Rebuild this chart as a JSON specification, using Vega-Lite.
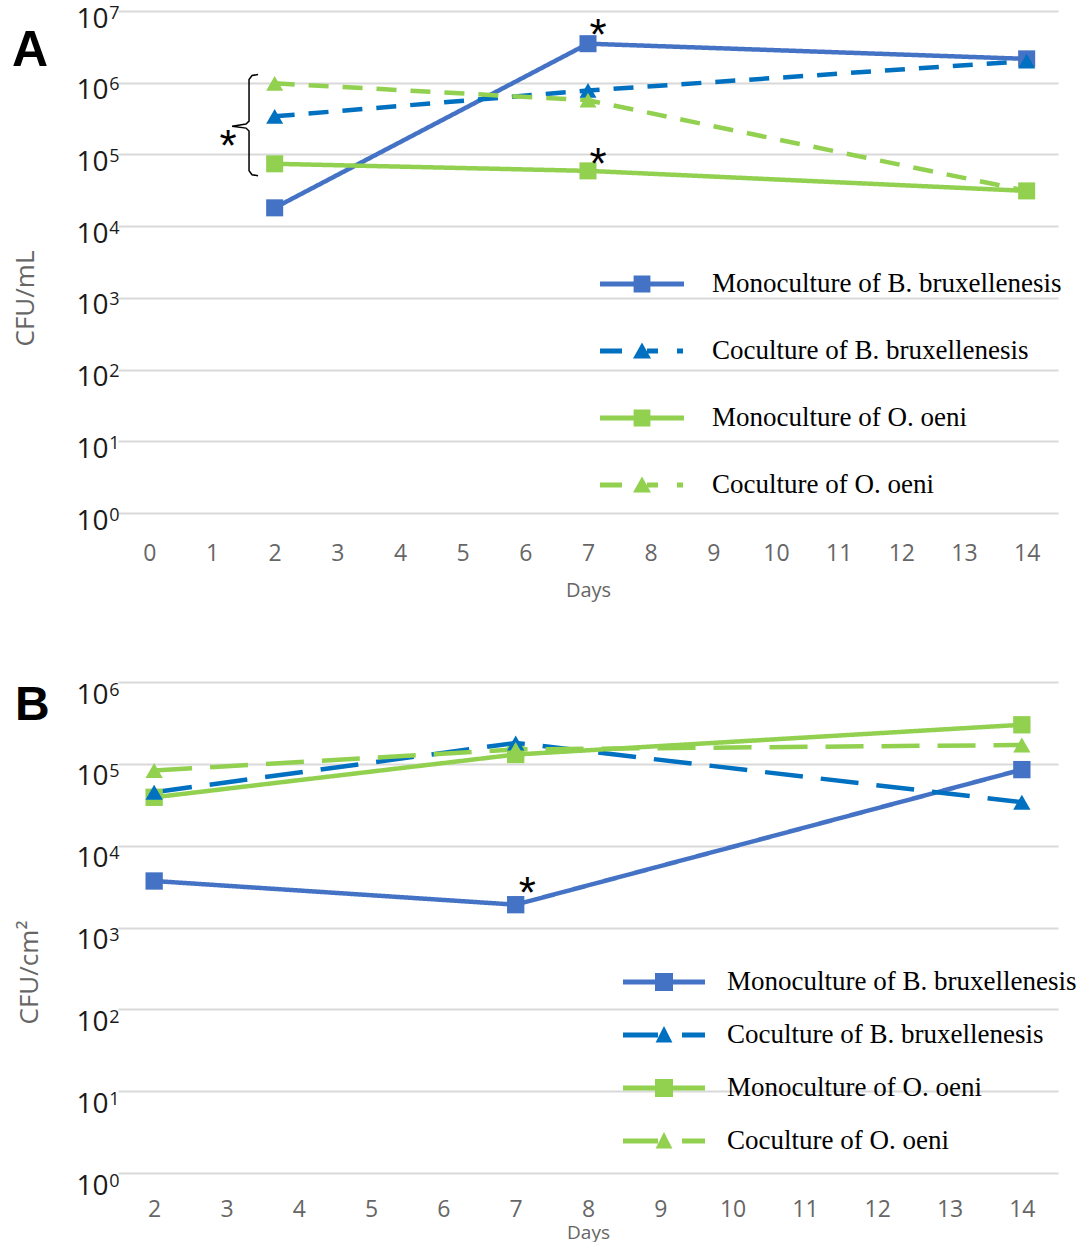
{
  "$schema": "https://vega.github.io/schema/vega-lite/v6.json",
  "background": "white",
  "padding": {"left": 12, "top": 4, "right": 0, "bottom": 0},
  "spacing": 81,
  "config": {"view": {"stroke": null}},
  "datasets": {
    "A": [
      {"day": 2, "cfu": 18000, "series": "Monoculture of B. bruxellenesis"},
      {"day": 7, "cfu": 3500000, "series": "Monoculture of B. bruxellenesis"},
      {"day": 14, "cfu": 2150000, "series": "Monoculture of B. bruxellenesis"},
      {"day": 2, "cfu": 340000, "series": "Coculture of B. bruxellenesis"},
      {"day": 7, "cfu": 780000, "series": "Coculture of B. bruxellenesis"},
      {"day": 14, "cfu": 2000000, "series": "Coculture of B. bruxellenesis"},
      {"day": 2, "cfu": 74000, "series": "Monoculture of O. oeni"},
      {"day": 7, "cfu": 59000, "series": "Monoculture of O. oeni"},
      {"day": 14, "cfu": 31000, "series": "Monoculture of O. oeni"},
      {"day": 2, "cfu": 980000, "series": "Coculture of O. oeni"},
      {"day": 7, "cfu": 570000, "series": "Coculture of O. oeni"},
      {"day": 14, "cfu": 31000, "series": "Coculture of O. oeni"}
    ],
    "B": [
      {"day": 2, "cfu": 3700, "series": "Monoculture of B. bruxellenesis"},
      {"day": 7, "cfu": 1900, "series": "Monoculture of B. bruxellenesis"},
      {"day": 14, "cfu": 85000, "series": "Monoculture of B. bruxellenesis"},
      {"day": 2, "cfu": 45000, "series": "Coculture of B. bruxellenesis"},
      {"day": 7, "cfu": 180000, "series": "Coculture of B. bruxellenesis"},
      {"day": 14, "cfu": 34000, "series": "Coculture of B. bruxellenesis"},
      {"day": 2, "cfu": 39000, "series": "Monoculture of O. oeni"},
      {"day": 7, "cfu": 130000, "series": "Monoculture of O. oeni"},
      {"day": 14, "cfu": 300000, "series": "Monoculture of O. oeni"},
      {"day": 2, "cfu": 83000, "series": "Coculture of O. oeni"},
      {"day": 7, "cfu": 150000, "series": "Coculture of O. oeni"},
      {"day": 14, "cfu": 170000, "series": "Coculture of O. oeni"}
    ],
    "starsA": [
      {"day": 7.16, "cfu": 5600000},
      {"day": 7.16, "cfu": 89000},
      {"day": 1.256, "cfu": 160000}
    ],
    "starsB": [
      {"day": 7.16, "cfu": 3100}
    ],
    "panelA": [{"day": -2.19, "cfu": 1710000, "label": "A"}],
    "panelB": [{"day": 0.076, "cfu": 344000, "label": "B"}],
    "braceA": [
      {"k": 1, "day": 1.735, "cfu": 1300000},
      {"k": 2, "day": 1.639, "cfu": 1260000},
      {"k": 3, "day": 1.591, "cfu": 1110000},
      {"k": 4, "day": 1.591, "cfu": 291000},
      {"k": 5, "day": 1.543, "cfu": 265000},
      {"k": 6, "day": 1.32, "cfu": 248000},
      {"k": 7, "day": 1.543, "cfu": 233000},
      {"k": 8, "day": 1.591, "cfu": 212000},
      {"k": 9, "day": 1.591, "cfu": 59200},
      {"k": 10, "day": 1.639, "cfu": 52100},
      {"k": 11, "day": 1.735, "cfu": 50500}
    ]
  },
  "resolve": {
    "scale": {"color": "independent", "strokeDash": "independent"},
    "legend": {"color": "independent"}
  },
  "vconcat": [
    {
      "width": 940,
      "height": 502,
      "encoding": {
        "x": {"field": "day", "type": "quantitative",
          "scale": {"domain": [-0.5, 14.5], "nice": false, "zero": false},
          "axis": {"values": [0,1,2,3,4,5,6,7,8,9,10,11,12,13,14], "grid": false, "domain": false, "ticks": false, "labelFlush": false,
            "labelFont": "Open Sans", "labelFontSize": 23, "labelColor": "#666666", "labelPadding": 29,
            "title": "Days", "titleFont": "Open Sans", "titleFontSize": 20, "titleFontWeight": "normal", "titleColor": "#666666", "titlePadding": 15}}
      },
      "layer": [
        {
          "data": {"name": "A"},
          "mark": {"type": "line", "strokeWidth": 4.5},
          "encoding": {
            "y": {"field": "cfu", "type": "quantitative",
              "scale": {"type": "log", "domain": [1, 10000000], "nice": false},
              "axis": {"orient": "left", "values": [1,10,100,1000,10000,100000,1000000,10000000], "labelExpr": "'10'",
                "grid": true, "gridColor": "#D9D9D9", "gridWidth": 2, "domain": false, "ticks": false,
                "labelFont": "Open Sans", "labelFontSize": 28, "labelColor": "#1a1a1a", "labelPadding": 10, "labelOffset": 8, "labelOverlap": false, "labelFlush": false,
                "title": "CFU/mL", "titleFont": "Open Sans", "titleFontSize": 26, "titleFontWeight": "normal", "titleColor": "#666666", "titleX": -85, "titleY": 287, "titleBaseline": "alphabetic"}},
            "color": {"field": "series", "type": "nominal",
              "scale": {"domain": ["Monoculture of B. bruxellenesis", "Coculture of B. bruxellenesis", "Monoculture of O. oeni", "Coculture of O. oeni"], "range": ["#4472C4", "#0070C0", "#92D050", "#92D050"]},
              "legend": {"orient": "none", "legendX": 504, "legendY": 253, "title": null, "symbolSize": 1600,
                "labelFont": "Liberation Serif", "labelFontSize": 27, "labelColor": "#000", "labelLimit": 600, "rowPadding": 34, "labelOffset": 50, "padding": 0,
                "encode": {"symbols": {"update": {
                  "shape": {"signal": "indexof(datum.value,'Mono')==0 ? 'M-2.1,-0.12H2.1V0.12H-2.1Z M-0.42,-0.42H0.42V0.42H-0.42Z' : 'M-2.1,-0.12H-1V0.12H-2.1Z M-0.45,0.38L0,-0.42L0.45,0.38Z M0.25,-0.12H0.8V0.12H0.25Z M1.75,-0.12H2.05V0.12H1.75Z'"},
                  "fill": {"signal": "indexof(datum.value,'O. oeni')>=0 ? '#92D050' : (indexof(datum.value,'Mono')==0 ? '#4472C4' : '#0070C0')"},
                  "stroke": {"value": "transparent"}, "strokeWidth": {"value": 0}, "opacity": {"value": 1}, "fillOpacity": {"value": 1}}}}}},
            "strokeDash": {"field": "series", "type": "nominal",
              "scale": {"domain": ["Monoculture of B. bruxellenesis", "Coculture of B. bruxellenesis", "Monoculture of O. oeni", "Coculture of O. oeni"], "range": [[1,0],[20,14],[1,0],[20,14]]},
              "legend": null}
          }
        },
        {
          "data": {"name": "A"},
          "transform": [{"filter": "indexof(datum.series,'Mono')==0"}],
          "mark": {"type": "point", "shape": "square", "filled": true, "size": 290, "opacity": 1},
          "encoding": {
            "y": {"field": "cfu", "type": "quantitative",
              "scale": {"type": "log", "domain": [1, 10000000], "nice": false},
              "axis": {"orient": "left", "values": [1,10,100,1000,10000,100000,1000000,10000000], "labelExpr": "'' + round(log(datum.value)/LN10)",
                "grid": false, "domain": false, "ticks": false,
                "labelFont": "Open Sans", "labelFontSize": 18, "labelColor": "#1a1a1a", "labelPadding": -1, "labelOffset": 2, "labelOverlap": false, "labelFlush": false, "title": null}},
            "color": {"field": "series", "type": "nominal",
              "scale": {"domain": ["Monoculture of B. bruxellenesis", "Coculture of B. bruxellenesis", "Monoculture of O. oeni", "Coculture of O. oeni"], "range": ["#4472C4", "#0070C0", "#92D050", "#92D050"]},
              "legend": null}
          }
        },
        {
          "data": {"name": "A"},
          "transform": [{"filter": "indexof(datum.series,'Coculture')==0"}],
          "mark": {"type": "point", "shape": "triangle-up", "filled": true, "size": 290, "opacity": 1},
          "encoding": {
            "y": {"field": "cfu", "type": "quantitative", "scale": {"type": "log", "domain": [1, 10000000], "nice": false}, "axis": null},
            "color": {"field": "series", "type": "nominal",
              "scale": {"domain": ["Monoculture of B. bruxellenesis", "Coculture of B. bruxellenesis", "Monoculture of O. oeni", "Coculture of O. oeni"], "range": ["#4472C4", "#0070C0", "#92D050", "#92D050"]},
              "legend": null}
          }
        },
        {
          "data": {"name": "starsA"},
          "mark": {"type": "text", "text": "*", "font": "Liberation Sans", "fontSize": 44, "color": "#000", "baseline": "middle", "align": "center", "dy": 8},
          "encoding": {
            "y": {"field": "cfu", "type": "quantitative", "scale": {"type": "log", "domain": [1, 10000000], "nice": false}, "axis": null}
          }
        },
        {
          "data": {"name": "braceA"},
          "mark": {"type": "line", "color": "#000", "strokeWidth": 1.5},
          "encoding": {
            "y": {"field": "cfu", "type": "quantitative", "scale": {"type": "log", "domain": [1, 10000000], "nice": false}, "axis": null},
            "order": {"field": "k", "type": "quantitative"}
          }
        },
        {
          "data": {"name": "panelA"},
          "mark": {"type": "text", "font": "Liberation Sans", "fontSize": 50, "fontWeight": "bold", "color": "#000", "align": "left", "baseline": "alphabetic"},
          "encoding": {
            "y": {"field": "cfu", "type": "quantitative", "scale": {"type": "log", "domain": [1, 10000000], "nice": false}, "axis": null},
            "text": {"field": "label", "type": "nominal"}
          }
        }
      ],
      "resolve": {"axis": {"y": "independent"}}
    },
    {
      "width": 940,
      "height": 491,
      "encoding": {
        "x": {"field": "day", "type": "quantitative",
          "scale": {"domain": [1.5, 14.5], "nice": false, "zero": false},
          "axis": {"values": [2,3,4,5,6,7,8,9,10,11,12,13,14], "grid": false, "domain": false, "ticks": false, "labelFlush": false,
            "labelFont": "Open Sans", "labelFontSize": 23, "labelColor": "#666666", "labelPadding": 25,
            "title": "Days", "titleFont": "Open Sans", "titleFontSize": 19, "titleFontWeight": "normal", "titleColor": "#666666", "titlePadding": 2}}
      },
      "layer": [
        {
          "data": {"name": "B"},
          "mark": {"type": "line", "strokeWidth": 4.5},
          "encoding": {
            "y": {"field": "cfu", "type": "quantitative",
              "scale": {"type": "log", "domain": [1, 1000000], "nice": false},
              "axis": {"orient": "left", "values": [1,10,100,1000,10000,100000,1000000], "labelExpr": "'10'",
                "grid": true, "gridColor": "#D9D9D9", "gridWidth": 2, "domain": false, "ticks": false,
                "labelFont": "Open Sans", "labelFontSize": 28, "labelColor": "#1a1a1a", "labelPadding": 10, "labelOffset": 13, "labelOverlap": false, "labelFlush": false,
                "title": "CFU/cm²", "titleFont": "Open Sans", "titleFontSize": 26, "titleFontWeight": "normal", "titleColor": "#666666", "titleX": -81, "titleY": 290, "titleBaseline": "alphabetic"}},
            "color": {"field": "series", "type": "nominal",
              "scale": {"domain": ["Monoculture of B. bruxellenesis", "Coculture of B. bruxellenesis", "Monoculture of O. oeni", "Coculture of O. oeni"], "range": ["#4472C4", "#0070C0", "#92D050", "#92D050"]},
              "legend": {"orient": "none", "legendX": 526, "legendY": 280, "title": null, "symbolSize": 1600,
                "labelFont": "Liberation Serif", "labelFontSize": 27, "labelColor": "#000", "labelLimit": 600, "rowPadding": 20, "labelOffset": 43, "padding": 0,
                "encode": {"symbols": {"update": {
                  "shape": {"signal": "indexof(datum.value,'Mono')==0 ? 'M-2.05,-0.12H2.05V0.12H-2.05Z M-0.45,-0.45H0.45V0.45H-0.45Z' : 'M-2.05,-0.12H-0.3V0.12H-2.05Z M-0.42,0.38L0,-0.45L0.42,0.38Z M0.9,-0.12H2.05V0.12H0.9Z'"},
                  "fill": {"signal": "indexof(datum.value,'O. oeni')>=0 ? '#92D050' : (indexof(datum.value,'Mono')==0 ? '#4472C4' : '#0070C0')"},
                  "stroke": {"value": "transparent"}, "strokeWidth": {"value": 0}, "opacity": {"value": 1}, "fillOpacity": {"value": 1}}}}}},
            "strokeDash": {"field": "series", "type": "nominal",
              "scale": {"domain": ["Monoculture of B. bruxellenesis", "Coculture of B. bruxellenesis", "Monoculture of O. oeni", "Coculture of O. oeni"], "range": [[1,0],[38,18],[1,0],[38,18]]},
              "legend": null}
          }
        },
        {
          "data": {"name": "B"},
          "transform": [{"filter": "indexof(datum.series,'Mono')==0"}],
          "mark": {"type": "point", "shape": "square", "filled": true, "size": 300, "opacity": 1},
          "encoding": {
            "y": {"field": "cfu", "type": "quantitative",
              "scale": {"type": "log", "domain": [1, 1000000], "nice": false},
              "axis": {"orient": "left", "values": [1,10,100,1000,10000,100000,1000000], "labelExpr": "'' + round(log(datum.value)/LN10)",
                "grid": false, "domain": false, "ticks": false,
                "labelFont": "Open Sans", "labelFontSize": 18, "labelColor": "#1a1a1a", "labelPadding": -1, "labelOffset": 8, "labelOverlap": false, "labelFlush": false, "title": null}},
            "color": {"field": "series", "type": "nominal",
              "scale": {"domain": ["Monoculture of B. bruxellenesis", "Coculture of B. bruxellenesis", "Monoculture of O. oeni", "Coculture of O. oeni"], "range": ["#4472C4", "#0070C0", "#92D050", "#92D050"]},
              "legend": null}
          }
        },
        {
          "data": {"name": "B"},
          "transform": [{"filter": "indexof(datum.series,'Coculture')==0"}],
          "mark": {"type": "point", "shape": "triangle-up", "filled": true, "size": 300, "opacity": 1},
          "encoding": {
            "y": {"field": "cfu", "type": "quantitative", "scale": {"type": "log", "domain": [1, 1000000], "nice": false}, "axis": null},
            "color": {"field": "series", "type": "nominal",
              "scale": {"domain": ["Monoculture of B. bruxellenesis", "Coculture of B. bruxellenesis", "Monoculture of O. oeni", "Coculture of O. oeni"], "range": ["#4472C4", "#0070C0", "#92D050", "#92D050"]},
              "legend": null}
          }
        },
        {
          "data": {"name": "starsB"},
          "mark": {"type": "text", "text": "*", "font": "Liberation Sans", "fontSize": 44, "color": "#000", "baseline": "middle", "align": "center", "dy": 8},
          "encoding": {
            "y": {"field": "cfu", "type": "quantitative", "scale": {"type": "log", "domain": [1, 1000000], "nice": false}, "axis": null}
          }
        },
        {
          "data": {"name": "panelB"},
          "mark": {"type": "text", "font": "Liberation Sans", "fontSize": 48, "fontWeight": "bold", "color": "#000", "align": "left", "baseline": "alphabetic"},
          "encoding": {
            "y": {"field": "cfu", "type": "quantitative", "scale": {"type": "log", "domain": [1, 1000000], "nice": false}, "axis": null},
            "text": {"field": "label", "type": "nominal"}
          }
        }
      ],
      "resolve": {"axis": {"y": "independent"}}
    }
  ]
}
